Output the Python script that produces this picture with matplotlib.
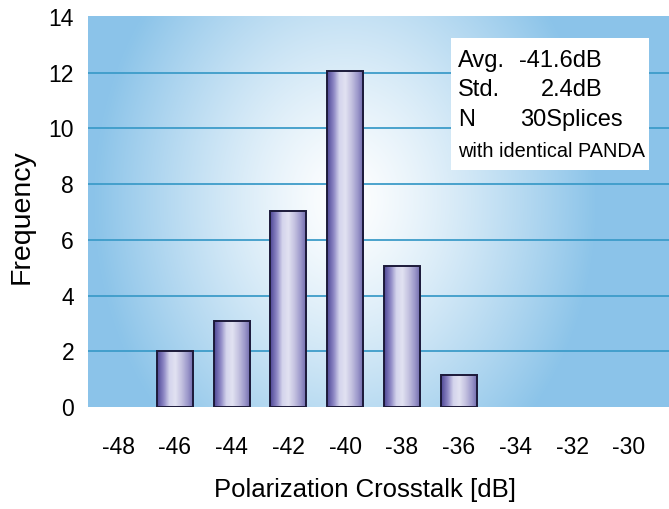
import numpy as np
import matplotlib
matplotlib.use("Agg")
import matplotlib.pyplot as plt
from matplotlib.colors import LinearSegmentedColormap

# data
bin_centers = [-46, -44, -42, -40, -38, -36]
counts = [2.0, 3.1, 7.05, 12.05, 5.05, 1.15]
x_ticks = [-48, -46, -44, -42, -40, -38, -36, -34, -32, -30]
y_ticks = [0, 2, 4, 6, 8, 10, 12, 14]
stats_labels = ["Avg.", "Std.", "N"]
stats_values = ["-41.6dB", "2.4dB", "30Splices"]
stats_note = "with identical PANDA"

plt.rcParams['font.family'] = ['Liberation Sans', 'DejaVu Sans']
plt.rcParams['axes.unicode_minus'] = False

W, H = 669, 509
fig = plt.figure(figsize=(W / 100, H / 100), dpi=100)
fig.set_facecolor("white")

# axes box in pixels
left, top, right, bottom = 88, 16, 669, 407
ax = fig.add_axes([left / W, 1 - bottom / H, (right - left) / W, (bottom - top) / H])

xmin, xmax = -49.06, -28.59
ymin, ymax = 0, 14.03
ax.set_xlim(xmin, xmax)
ax.set_ylim(ymin, ymax)

# radial background: white centre fading to sky blue
pw, ph = right - left, bottom - top
gx, gy = np.meshgrid(np.arange(pw), np.arange(ph))
cx, cy = 345 - left, 200 - top
r = np.sqrt((gx - cx) ** 2 + ((gy - cy) * 0.8) ** 2) / 250.0
t = np.clip(r, 0, 1) ** 1.3
blue = np.array([140, 196, 233]) / 255.0
white = np.array([1.0, 1.0, 1.0])
bg = white[None, None, :] * (1 - t[..., None]) + blue[None, None, :] * t[..., None]
ax.imshow(bg, extent=[xmin, xmax, ymin, ymax], origin="upper", aspect="auto", zorder=0)

# grid lines
for yv in y_ticks[1:-1]:
    ax.axhline(yv, color="#3d9cc9", lw=1.3, zorder=1)

# bars with cylinder-like shading
bar_cmap = LinearSegmentedColormap.from_list(
    "cyl", ["#4f4896", "#8a84c2", "#d4d4ec", "#e2e2f2", "#c4c2e0", "#9e9acc", "#6c66aa"])
shade = np.linspace(0, 1, 64)[None, :]
bw = 1.27
for xc, h in zip(bin_centers, counts):
    ax.imshow(shade, cmap=bar_cmap, extent=[xc - bw / 2, xc + bw / 2, 0, h],
              aspect="auto", zorder=2)
ax.bar(bin_centers, counts, width=bw, facecolor="none", edgecolor="#1c1a3a",
       linewidth=1.4, zorder=3)
ax.set_xlim(xmin, xmax)
ax.set_ylim(ymin, ymax)

# ticks and labels
ax.set_xticks(x_ticks)
ax.set_yticks(y_ticks)
ax.tick_params(axis="both", length=0, labelsize=16.5)
ax.tick_params(axis="x", pad=21)
ax.tick_params(axis="y", pad=10)
for s in ax.spines.values():
    s.set_visible(False)

ax.set_xlabel("Polarization Crosstalk [dB]", fontsize=18.5)
ax.set_ylabel("Frequency", fontsize=20.5)
ax.xaxis.set_label_coords((365 - left) / pw, (bottom - 478) / ph)
ax.yaxis.set_label_coords((35 - left) / pw, (bottom - 217) / ph)

# statistics box
def fx(px):
    return px / W

def fy(py):
    return 1 - py / H

box = plt.Rectangle((fx(451), fy(170)), fx(649) - fx(451), fy(38) - fy(170),
                    transform=fig.transFigure, facecolor="white", edgecolor="none",
                    zorder=5)
fig.patches.append(box)

baselines = [67, 96, 126]
value_right = [602, 602, 623]
for lab, val, yb, xr in zip(stats_labels, stats_values, baselines, value_right):
    fig.text(fx(458), fy(yb), lab, fontsize=17, va="baseline", ha="left", zorder=6)
    fig.text(fx(xr), fy(yb), val, fontsize=17, va="baseline", ha="right", zorder=6)
fig.text(fx(458), fy(157), stats_note, fontsize=14.3, va="baseline", ha="left", zorder=6)

fig.savefig("out.png", dpi=100, facecolor="white")
